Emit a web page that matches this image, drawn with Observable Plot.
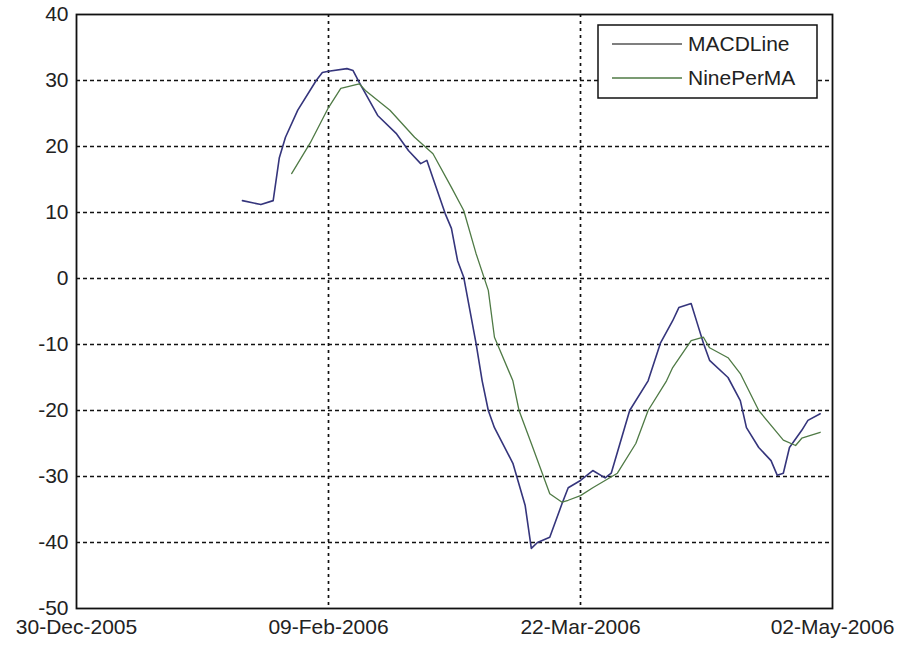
<!DOCTYPE html>
<html>
<head>
<meta charset="utf-8">
<script src="https://cdn.jsdelivr.net/npm/d3@7"></script>
<script src="https://cdn.jsdelivr.net/npm/@observablehq/plot@0.6"></script>
<style>
  html, body { margin: 0; padding: 0; background: #fff; }
  #chart svg { display: block; }
</style>
</head>
<body>
<div id="chart"></div>
<script>
// ---- Data ----
const seriesNames = ["MACDLine", "NinePerMA"];

const macdDates = [
  "2006-01-26","2006-01-29","2006-01-31","2006-02-01","2006-02-02","2006-02-04","2006-02-07",
  "2006-02-08","2006-02-09","2006-02-12","2006-02-13","2006-02-14","2006-02-17","2006-02-20",
  "2006-02-22","2006-02-24","2006-02-25","2006-02-26","2006-02-28","2006-03-01","2006-03-02",
  "2006-03-03","2006-03-05","2006-03-06","2006-03-07","2006-03-08","2006-03-11","2006-03-13",
  "2006-03-14","2006-03-15","2006-03-17","2006-03-19","2006-03-20","2006-03-22","2006-03-24",
  "2006-03-26","2006-03-27","2006-03-30","2006-04-02","2006-04-04","2006-04-06","2006-04-07",
  "2006-04-09","2006-04-10","2006-04-11","2006-04-12","2006-04-15","2006-04-17","2006-04-18",
  "2006-04-20","2006-04-22","2006-04-23","2006-04-24","2006-04-25","2006-04-27","2006-04-28",
  "2006-04-30"
];
const macdValues = [
  11.8, 11.2, 11.8, 18.3, 21.4, 25.5, 30.0,
  31.2, 31.4, 31.8, 31.5, 29.7, 24.7, 22.0,
  19.4, 17.4, 17.9, 15.2, 9.8, 7.6, 2.7,
  0.2, -9.8, -15.5, -20.0, -22.6, -28.0, -34.4,
  -40.9, -40.0, -39.2, -34.1, -31.7, -30.6, -29.1,
  -30.2, -29.5, -20.0, -15.5, -9.8, -6.4, -4.4,
  -3.8, -6.8, -9.8, -12.4, -15.0, -18.5, -22.6,
  -25.6, -27.6, -29.8, -29.5, -25.6, -23.0, -21.5,
  -20.5
];

const nineDates = [
  "2006-02-03","2006-02-06","2006-02-09","2006-02-11","2006-02-14","2006-02-15","2006-02-19",
  "2006-02-23","2006-02-26","2006-03-01","2006-03-03","2006-03-05","2006-03-07","2006-03-08",
  "2006-03-11","2006-03-12","2006-03-14","2006-03-17","2006-03-19","2006-03-20","2006-03-22",
  "2006-03-24","2006-03-26","2006-03-28","2006-03-31","2006-04-02","2006-04-05","2006-04-06",
  "2006-04-09","2006-04-11","2006-04-12","2006-04-15","2006-04-17","2006-04-20","2006-04-24",
  "2006-04-26","2006-04-27","2006-04-30"
];
const nineValues = [
  15.9, 20.5, 25.9, 28.8, 29.5, 28.5, 25.5,
  21.4, 18.9, 13.8, 10.3, 3.8, -1.8, -8.9,
  -15.5, -20.0, -25.0, -32.6, -33.9, -33.6, -32.9,
  -31.7, -30.6, -29.5, -25.0, -20.0, -15.5, -13.5,
  -9.4, -8.9, -10.5, -12.0, -14.4, -20.0, -24.5,
  -25.3, -24.2, -23.3
];

const yTicks = [-50, -40, -30, -20, -10, 0, 10, 20, 30, 40];
const xTickLabels = ["2005-12-30", "2006-02-09", "2006-03-22", "2006-05-02"];
const xGridLabels = ["2006-02-09", "2006-03-22"];

const colors = ["#35357c", "#4f7a45"];

// ---- Build tables ----
const parse = d3.utcParse("%Y-%m-%d");
const macd = macdDates.map((d, i) => ({date: parse(d), value: macdValues[i]}));
const nine = nineDates.map((d, i) => ({date: parse(d), value: nineValues[i]}));
const xTicks = xTickLabels.map(parse);
const xGrid = xGridLabels.map(parse);

const font = "'Liberation Sans', Arial, Helvetica, sans-serif";

const chart = Plot.plot({
  width: 899,
  height: 646,
  marginLeft: 76,
  marginRight: 67,
  marginTop: 14,
  marginBottom: 38,
  style: {background: "#fff", fontFamily: font, fontSize: "22px", color: "#222"},
  x: {type: "utc", domain: [xTicks[0], xTicks[xTicks.length - 1]]},
  y: {domain: [-50, 40]},
  marks: [
    Plot.gridY(yTicks.slice(1, -1), {stroke: "#111", strokeOpacity: 1, strokeWidth: 1.7, strokeDasharray: "4,3"}),
    Plot.gridX(xGrid, {stroke: "#111", strokeOpacity: 1, strokeWidth: 1.7, strokeDasharray: "3,4"}),
    Plot.axisY(yTicks, {tickSize: 0, tickPadding: 8, fontSize: 21, label: null, fill: "#222",
      tickFormat: d => String(d)}),
    Plot.axisX(xTicks, {tickSize: 0, tickPadding: 11, fontSize: 21, label: null, fill: "#222",
      tickFormat: d3.utcFormat("%d-%b-%Y")}),
    Plot.line(macd, {x: "date", y: "value", stroke: colors[0], strokeWidth: 1.6}),
    Plot.line(nine, {x: "date", y: "value", stroke: colors[1], strokeWidth: 1.3}),
    Plot.frame({stroke: "#111", strokeWidth: 1.8})
  ]
});

document.getElementById("chart").appendChild(chart);

// ---- Legend box inside the axes (top-right) ----
const svg = d3.select(chart);
const lg = svg.append("g").attr("font-family", font).attr("font-size", 21)
  .attr("text-anchor", "start");
lg.append("rect").attr("x", 598).attr("y", 25).attr("width", 219).attr("height", 73)
  .attr("fill", "#fff").attr("stroke", "#111").attr("stroke-width", 1.5);
seriesNames.forEach((name, i) => {
  const y = 44 + i * 34;
  lg.append("line").attr("x1", 612).attr("x2", 682).attr("y1", y).attr("y2", y)
    .attr("stroke", i === 0 ? "#555" : colors[1]).attr("stroke-width", 1.5);
  lg.append("text").attr("x", 688).attr("y", y).attr("dy", "0.35em")
    .attr("text-anchor", "start").attr("fill", "#222").text(name);
});
</script>
</body>
</html>
